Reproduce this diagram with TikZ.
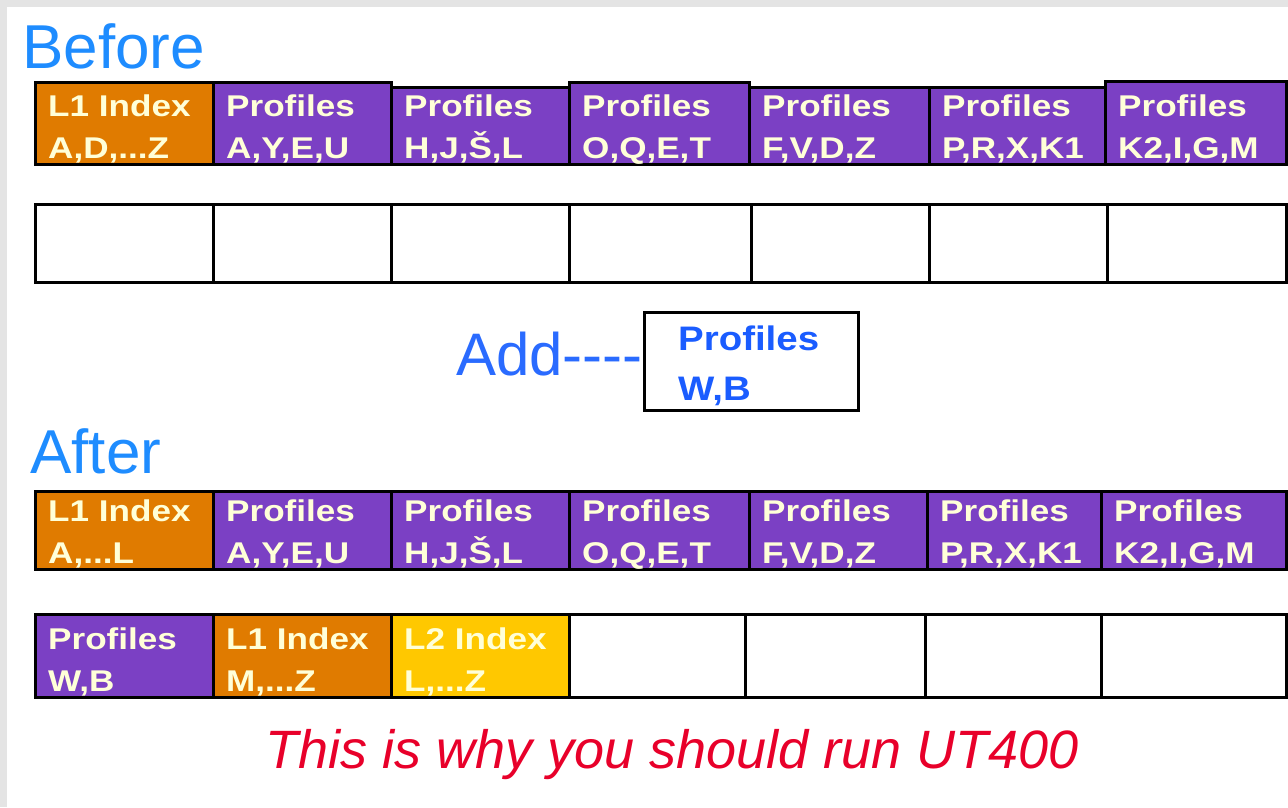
\documentclass[tikz,border=0pt]{standalone}
\usepackage{fontspec}
\usepackage{graphicx}
\setmainfont{Liberation Sans}
\usetikzlibrary{calc}
\definecolor{bggray}{HTML}{E4E4E4}
\definecolor{purp}{HTML}{7B40C4}
\definecolor{orng}{HTML}{E07B00}
\definecolor{yell}{HTML}{FFC800}
\definecolor{cream}{HTML}{FFFFD8}
\definecolor{bluea}{HTML}{1E8CFF}
\definecolor{blueb}{HTML}{2A6BFF}
\definecolor{bluec}{HTML}{1A5CFF}
\definecolor{redt}{HTML}{E8002A}
\newcommand\mkcell[6]{\node[cellbox, fill=#6, minimum width={#4-#2}, minimum height={#5-#3}] (#1) at (#2,#3) {};}
\newcommand\ctext[3]{%
  \node[celltxt] (#1-a) at ($(#1.south west)+(14,-50)$) {\scalebox{1.17}[1]{#2}};
  \node[celltxt] (#1-b) at ($(#1.south west)+(14,-8)$) {\scalebox{1.17}[1]{#3}};}
\begin{document}
\begin{tikzpicture}[x=1pt,y=-1pt,
  cellbox/.style={draw=black,line width=3pt,inner sep=0pt,anchor=north west},
  celltxt/.style={anchor=base west,inner sep=0pt,text=cream,font=\fontsize{30}{30}\selectfont\bfseries},
  heading/.style={anchor=base west,inner sep=0pt,text=bluea,font=\fontsize{62}{62}\selectfont}]
\useasboundingbox (0,0) rectangle (1288,807);
\fill[bggray] (0,0) rectangle (1288,807);
\fill[white] (7,7) rectangle (1288,807);

% Before
\node[heading] (before) at (22,68) {Before};
\mkcell{a1}{34}{81}{212}{163}{orng}
\mkcell{a2}{212}{81}{390}{163}{purp}
\mkcell{a3}{390}{86}{568}{163}{purp}
\mkcell{a4}{568}{81}{748}{163}{purp}
\mkcell{a5}{748}{86}{928}{163}{purp}
\mkcell{a6}{928}{86}{1104}{163}{purp}
\mkcell{a7}{1104}{80}{1285}{163}{purp}
\ctext{a1}{L1 Index}{A,D,...Z}
\ctext{a2}{Profiles}{A,Y,E,U}
\ctext{a3}{Profiles}{H,J,Š,L}
\ctext{a4}{Profiles}{O,Q,E,T}
\ctext{a5}{Profiles}{F,V,D,Z}
\ctext{a6}{Profiles}{P,R,X,K1}
\ctext{a7}{Profiles}{K2,I,G,M}

\mkcell{b1}{34}{203}{212}{281}{white}
\mkcell{b2}{212}{203}{390}{281}{white}
\mkcell{b3}{390}{203}{568}{281}{white}
\mkcell{b4}{568}{203}{750}{281}{white}
\mkcell{b5}{750}{203}{928}{281}{white}
\mkcell{b6}{928}{203}{1106}{281}{white}
\mkcell{b7}{1106}{203}{1285}{281}{white}

% Add
\node[cellbox, fill=white, minimum width=214, minimum height=98] (newbox) at (643,311) {};
\node[anchor=base west,inner sep=0pt,text=bluec,font=\fontsize{34}{34}\selectfont\bfseries] (nb-a) at ($(newbox.north west)+(35,39)$) {\scalebox{1.13}[1]{Profiles}};
\node[anchor=base west,inner sep=0pt,text=bluec,font=\fontsize{34}{34}\selectfont\bfseries] (nb-b) at ($(newbox.north west)+(35,89)$) {\scalebox{1.13}[1]{W,B}};
\node[anchor=base east,inner sep=0pt,text=blueb,font=\fontsize{60}{60}\selectfont] (add) at ($(newbox.north west)+(0,64)$) {Add{-}{-}{-}{-}};

% After
\node[heading] (after) at (30,473) {After};
\mkcell{c1}{34}{490}{212}{568}{orng}
\mkcell{c2}{212}{490}{390}{568}{purp}
\mkcell{c3}{390}{490}{568}{568}{purp}
\mkcell{c4}{568}{490}{748}{568}{purp}
\mkcell{c5}{748}{490}{926}{568}{purp}
\mkcell{c6}{926}{490}{1100}{568}{purp}
\mkcell{c7}{1100}{490}{1285}{568}{purp}
\ctext{c1}{L1 Index}{A,...L}
\ctext{c2}{Profiles}{A,Y,E,U}
\ctext{c3}{Profiles}{H,J,Š,L}
\ctext{c4}{Profiles}{O,Q,E,T}
\ctext{c5}{Profiles}{F,V,D,Z}
\ctext{c6}{Profiles}{P,R,X,K1}
\ctext{c7}{Profiles}{K2,I,G,M}

\mkcell{d1}{34}{613}{212}{696}{purp}
\mkcell{d2}{212}{613}{390}{696}{orng}
\mkcell{d3}{390}{613}{568}{696}{yell}
\mkcell{d4}{568}{613}{744}{696}{white}
\mkcell{d5}{744}{613}{924}{696}{white}
\mkcell{d6}{924}{613}{1100}{696}{white}
\mkcell{d7}{1100}{613}{1285}{696}{white}
\ctext{d1}{Profiles}{W,B}
\ctext{d2}{L1 Index}{M,...Z}
\ctext{d3}{L2 Index}{L,...Z}

\node[anchor=base west,inner sep=0pt,text=redt,font=\fontsize{54}{54}\selectfont\itshape] (note) at (265,768) {This is why you should run UT400};
\end{tikzpicture}
\end{document}
